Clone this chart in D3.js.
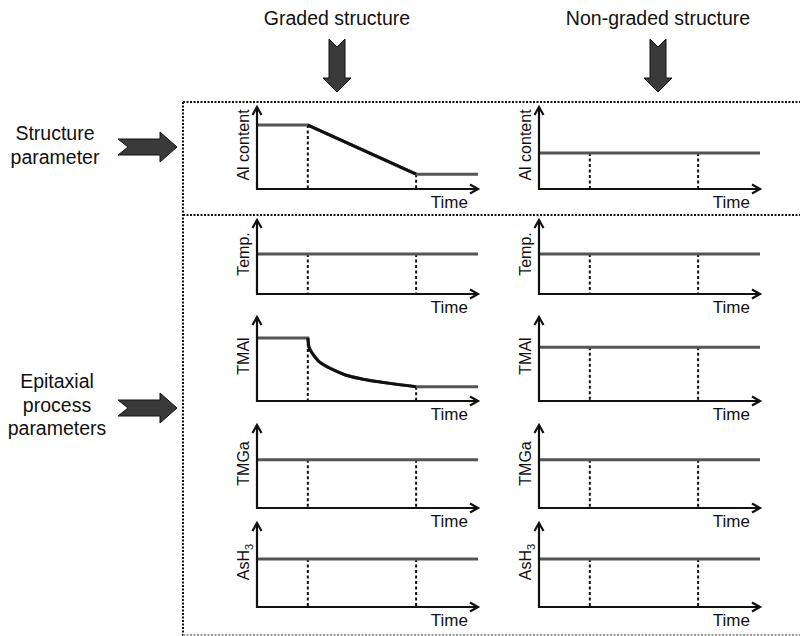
<!DOCTYPE html>
<html lang="en">
<head>
    <meta charset="UTF-8">
    <title>Graded vs non-graded structure</title>
    <style>
        body { margin: 0; background: #fff; }
        text { font-family: "Liberation Sans", Arial, sans-serif; fill: #111; }
    </style>
</head>
<body></body>
<script src="https://cdn.jsdelivr.net/npm/d3@7"></script>
<script>
    // --- data ---
    const columnTitles = ["Graded structure", "Non-graded structure"];
    const sideLabels = [["Structure", "parameter"], ["Epitaxial", "process", "parameters"]];
    const rowLabels = ["Al content", "Temp.", "TMAl", "TMGa", "AsH3"];
    const timeMarks = [2.3, 7.2];   // start / end of graded layer (time units 0..10)

    // graded structure: [time, level]
    const gradedAl = [[0, 0.78], [2.3, 0.78], [7.2, 0.18], [10, 0.18]];
    const gradedTemp = [[0, 0.54], [10, 0.54]];
    const gradedTMAl = [[0, 0.75], [2.3, 0.75], [2.35, 0.64], [2.55, 0.55], [2.8, 0.47], [3.3, 0.39],
                        [4.0, 0.31], [4.8, 0.26], [6.0, 0.21], [7.2, 0.17], [10, 0.17]];
    const gradedTMGa = [[0, 0.58], [10, 0.58]];
    const gradedAsH3 = [[0, 0.57], [10, 0.57]];

    // non-graded: constant levels
    const nonGradedLevels = [0.44, 0.54, 0.64, 0.58, 0.57];

    const gradedSeries = [gradedAl, gradedTemp, gradedTMAl, gradedTMGa, gradedAsH3];
    const gradedVaries = [true, false, true, false, false];

    // --- layout ---
    const width = 800, height = 636;
    const rowAxisY = [189, 294, 401, 508, 607];
    const rowTipY = [107, 220, 317, 425, 523];
    const colX0 = [257, 539];
    const colW = 221;

    let svg = d3.select("body").append("svg")
        .attr("width", width)
        .attr("height", height);

    // dotted frame
    const frame = svg.append("g").attr("fill", "none");
    const dotted = (x1, y1, x2, y2, col) => frame.append("line")
        .attr("x1", x1).attr("y1", y1).attr("x2", x2).attr("y2", y2)
        .attr("stroke", col).attr("stroke-width", 2).attr("stroke-dasharray", "2,1.5");
    dotted(183, 102, 800, 102, "#111");
    dotted(183, 102, 183, 636, "#111");
    dotted(183, 215, 800, 215, "#111");
    dotted(183, 635, 800, 635, "#999");

    // block arrows
    const arrowFill = "#3a3a3a";
    function downArrow(cx) {
        const top = 39, notch = 8, headY = 78, tip = 92, sw = 8, hw = 14;
        const pts = [[cx - sw, top], [cx, top + notch], [cx + sw, top], [cx + sw, headY],
                     [cx + hw, headY], [cx, tip], [cx - hw, headY], [cx - sw, headY]];
        svg.append("path").attr("d", "M" + pts.join("L") + "Z")
            .attr("fill", arrowFill).attr("stroke", "#111").attr("stroke-width", 1);
    }
    function rightArrow(cy) {
        const left = 118, notch = 10, headX = 160, tip = 177, sh = 8, hh = 15;
        const pts = [[left, cy - sh], [headX, cy - sh], [headX, cy - hh], [tip, cy],
                     [headX, cy + hh], [headX, cy + sh], [left, cy + sh], [left + notch, cy]];
        svg.append("path").attr("d", "M" + pts.join("L") + "Z")
            .attr("fill", arrowFill).attr("stroke", "#111").attr("stroke-width", 1);
    }

    // column titles
    const titleX = [337, 658];
    columnTitles.forEach((t, i) => {
        svg.append("text").attr("x", titleX[i]).attr("y", 25)
            .attr("text-anchor", "middle").attr("font-size", 19.5).text(t);
        downArrow(titleX[i]);
    });

    // side labels
    const sideY = [140, 388];
    const sideX = [55, 57];
    const arrowY = [147, 408];
    sideLabels.forEach((lines, i) => {
        const t = svg.append("text").attr("text-anchor", "middle").attr("font-size", 19.5);
        lines.forEach((l, j) => t.append("tspan").attr("x", sideX[i]).attr("y", sideY[i] + j * 23.5).text(l));
        rightArrow(arrowY[i]);
    });

    function valueAt(series, t) {
        for (let k = 1; k < series.length; k++) {
            const [t0, v0] = series[k - 1], [t1, v1] = series[k];
            if (t >= t0 && t <= t1) return t1 === t0 ? v1 : v0 + (v1 - v0) * (t - t0) / (t1 - t0);
        }
        return series[series.length - 1][1];
    }

    function drawPanel(col, row) {
        const x = d3.scaleLinear().domain([0, 10]).range([colX0[col], colX0[col] + colW]);
        const y = d3.scaleLinear().domain([0, 1]).range([rowAxisY[row], rowTipY[row]]);
        const g = svg.append("g");

        const series = col === 0 ? gradedSeries[row]
            : [[0, nonGradedLevels[row]], [10, nonGradedLevels[row]]];

        // dashed time markers
        timeMarks.forEach(tm => {
            g.append("line")
                .attr("x1", x(tm)).attr("x2", x(tm))
                .attr("y1", y(valueAt(series, tm))).attr("y2", y(0))
                .attr("stroke", "#111").attr("stroke-width", 2)
                .attr("stroke-dasharray", "3,2.5");
        });

        const line = d3.line().x(d => x(d[0])).y(d => y(d[1]));
        const curved = d3.line().x(d => x(d[0])).y(d => y(d[1])).curve(d3.curveMonotoneX);

        g.append("path").datum(series).attr("d", line)
            .attr("fill", "none").attr("stroke", "#555").attr("stroke-width", 3);

        if (col === 0 && gradedVaries[row]) {
            const mid = series.filter(d => d[0] >= timeMarks[0] && d[0] <= timeMarks[1]);
            g.append("path").datum(mid).attr("d", curved)
                .attr("fill", "none").attr("stroke", "#111").attr("stroke-width", 3);
        }

        // axes
        const [xa, xb] = x.range();
        const [ya, yb] = y.range();
        const ax = g.append("g").attr("fill", "none").attr("stroke", "#111")
            .attr("stroke-width", 2.2).attr("stroke-linejoin", "miter");
        ax.append("path").attr("d", `M${xa},${yb}V${ya}H${xb}`);
        ax.append("path").attr("d", `M${xa - 4.5},${yb + 8}L${xa},${yb}L${xa + 4.5},${yb + 8}`);
        ax.append("path").attr("d", `M${xb - 8},${ya - 4.5}L${xb},${ya}L${xb - 8},${ya + 4.5}`);

        g.append("text").attr("x", xb - 10).attr("y", ya + 19)
            .attr("text-anchor", "end").attr("font-size", 17).text("Time");

        const lab = g.append("text")
            .attr("transform", `translate(${xa - 8},${(ya + yb) / 2 - 3}) rotate(-90)`)
            .attr("text-anchor", "middle").attr("font-size", 16);
        const name = rowLabels[row];
        if (name === "AsH3") {
            lab.append("tspan").text("AsH");
            lab.append("tspan").attr("font-size", 11).attr("dy", 4).text("3");
        } else {
            lab.text(name);
        }
    }

    for (let c = 0; c < 2; c++)
        for (let r = 0; r < rowLabels.length; r++) drawPanel(c, r);
</script>
</html>
